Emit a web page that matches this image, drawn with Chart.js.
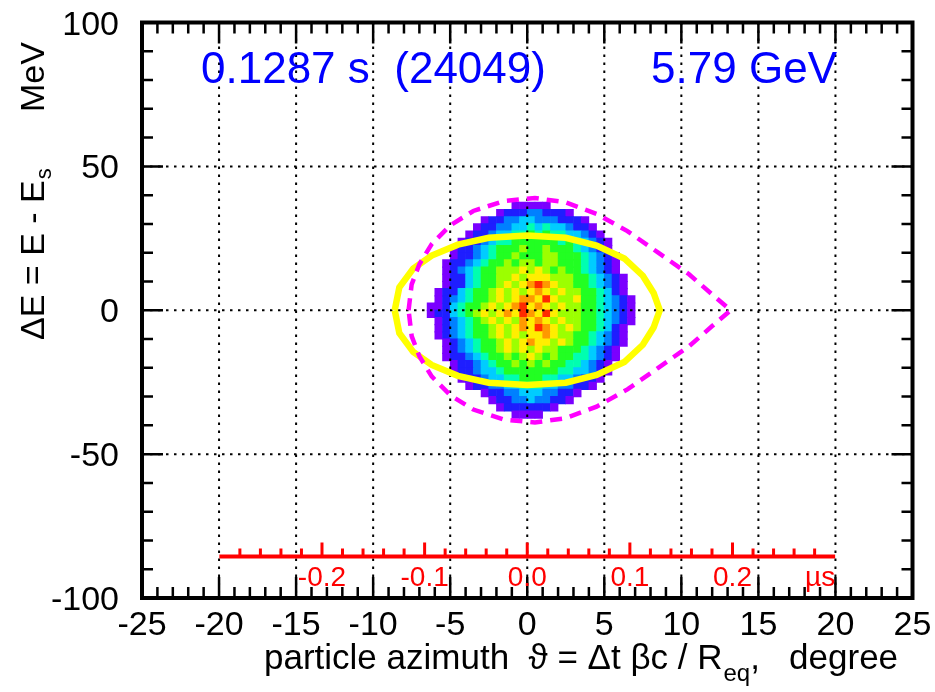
<!DOCTYPE html>
<html><head><meta charset="utf-8">
<script src="https://cdn.jsdelivr.net/npm/chart.js@4.4.1/dist/chart.umd.min.js"></script>
<style>html,body{margin:0;padding:0;background:#fff;overflow:hidden}canvas{display:block}</style>
</head><body>
<canvas id="c" width="935" height="692"></canvas>
<script>
// ---- axis ticks / labels ----
const xTicks = [-25,-20,-15,-10,-5,0,5,10,15,20,25];
const xTickLabels = ['-25','-20','-15','-10','-5','0','5','10','15','20','25'];
const yTicks = [-100,-50,0,50,100];
const yTickLabels = ['-100','-50','0','50','100'];
const xGrid = [-20,-15,-10,-5,0,5,10,15,20];
const yGrid = [-50,0,50];

// ---- 2D histogram (colour level per bin) ----
const heatX0 = -7, heatBinX = 0.5, heatY0 = 37.5, heatBinY = 2.5;
const heatRows = [
"............11111...........",
"..........1222332221........",
"........12233443332221......",
".......1223344545443221.....",
"......122344556565544321....",
".....12234556666665654321...",
"....122345666766766654321...",
"....1223456676667766654321..",
"...12234566767767766654321..",
"...12345667778787676654321..",
"...122456677878887776654321.",
"...122456678789a98776654321.",
"..1224566787878987877665421.",
"..12345667878998a87786654321",
".112456678789a89878776654321",
".122456787898a98a87776654321",
"..12345678787989878776654321",
"..1234566787898a98787665421.",
"..1234566787878898776654321.",
"...123456678789887876654321.",
"...12345667878787766654321..",
"...12234566767876766554321..",
"....122345667676766554321...",
"....122344566666665544321...",
".....1223445566655443221....",
"......12233445554433221.....",
"........1223344433221.......",
".........12233433221........",
"..........12222221..........",
"............1111............"
];
const heatColors = {
  '1':'#7a00ff','2':'#1e1eff','3':'#0080ff','4':'#00ccff','5':'#00ffb0',
  '6':'#22ff22','7':'#9cff00','8':'#ffee00','9':'#ff9900','a':'#ff2a00'
};

// ---- matched ellipse (yellow) ----
const ellipseX = [-8.6,-8.3,-7.4,-6.2,-4.5,-2.5,0,2.5,4.5,6.3,7.5,8.2,8.6,8.2,7.5,6.3,4.5,2.5,0,-2.5,-4.5,-6.2,-7.4,-8.3,-8.6];
const ellipseY = [0,8,14.5,19,22.8,25.2,26,25.2,22.5,18,12,6,0,-6,-12,-18,-22.5,-25.2,-26,-25.2,-22.8,-19,-14.5,-8,0];

// ---- separatrix (magenta dashed) ----
const sepX = [-7.7,-7.5,-7.0,-6.2,-5.0,-3.5,-1.5,0.5,2.5,4.5,6.5,8.5,10.5,12.0,13.2,12.0,10.5,8.5,6.5,4.5,2.5,0.5,-1.5,-3.5,-5.0,-6.2,-7.0,-7.5,-7.7];
const sepY = [0,9,16,23,29.5,34.5,38,39,37.5,33.5,27.5,20,12.5,5.5,0,-5.5,-12.5,-20,-27.5,-33.5,-37.5,-39,-38,-34.5,-29.5,-23,-16,-9,0];

// ---- time axis (red) ----
const timeAxisUs = [-0.3, 0.3];
const timeAxisMeV = -85.6;
const degPerUs = 66.6;
const timeMajorUs = [-0.2,-0.1,0,0.1,0.2];
const timeMinorUs = [-0.28,-0.26,-0.24,-0.22,-0.18,-0.16,-0.14,-0.12,-0.08,-0.06,-0.04,-0.02,0.02,0.04,0.06,0.08,0.12,0.14,0.16,0.18,0.22,0.24,0.26,0.28];
const timeLabels = ['-0.2','-0.1','0.0','0.1','0.2'];
const timeUnit = 'µs';

const infoLeft = '0.1287 s  (24049)';
const infoRight = '5.79 GeV';

// ---- build datasets ----
const heatData = [];
heatRows.forEach((row, r) => {
  for (let i = 0; i < row.length; i++) {
    const c = row[i];
    if (c === '.') continue;
    heatData.push({x: heatX0 + (i + 0.5) * heatBinX, y: heatY0 - (r + 0.5) * heatBinY, v: c});
  }
});
const ellipseData = ellipseX.map((x, i) => ({x, y: ellipseY[i]}));
const sepData = sepX.map((x, i) => ({x, y: sepY[i]}));
const axisData = timeAxisUs.map(u => ({x: u * degPerUs, y: timeAxisMeV}));
const majorLenMeV = 4.9, minorLenMeV = 2.8;
function tickSegs(list, len) {
  const out = [];
  list.forEach(u => {
    out.push({x: u * degPerUs, y: timeAxisMeV});
    out.push({x: u * degPerUs, y: timeAxisMeV + len});
    out.push({x: u * degPerUs, y: null});
  });
  return out;
}

const FONT = '"Liberation Sans", Arial, Helvetica, sans-serif';

const decor = {
  id: 'decor',
  afterDatasetDraw(chart, args) {
    if (args.index !== 0) return;
    const {ctx, chartArea: a, scales: {x, y}} = chart;
    ctx.save();
    ctx.strokeStyle = '#000';
    ctx.lineWidth = 2;
    ctx.setLineDash([2.5, 5.5]);
    xGrid.forEach(v => {
      const px = x.getPixelForValue(v);
      ctx.beginPath(); ctx.moveTo(px, a.top); ctx.lineTo(px, a.bottom); ctx.stroke();
    });
    yGrid.forEach(v => {
      const py = y.getPixelForValue(v);
      ctx.beginPath(); ctx.moveTo(a.left, py); ctx.lineTo(a.right, py); ctx.stroke();
    });
    ctx.restore();
  },
  afterDraw(chart) {
    const {ctx, chartArea: a, scales: {x, y}} = chart;
    ctx.save();
    // ticks
    ctx.strokeStyle = '#000';
    ctx.lineWidth = 2.5;
    ctx.beginPath();
    for (let v = -24; v <= 24; v++) {
      const len = (v % 5 === 0) ? 21 : 11;
      const px = x.getPixelForValue(v);
      ctx.moveTo(px, a.bottom); ctx.lineTo(px, a.bottom - len);
      ctx.moveTo(px, a.top); ctx.lineTo(px, a.top + len);
    }
    for (let v = -90; v <= 90; v += 10) {
      const len = (v % 50 === 0) ? 21 : 11;
      const py = y.getPixelForValue(v);
      ctx.moveTo(a.left, py); ctx.lineTo(a.left + len, py);
      ctx.moveTo(a.right, py); ctx.lineTo(a.right - len, py);
    }
    ctx.stroke();
    // frame
    ctx.lineWidth = 4;
    ctx.strokeRect(a.left, a.top, a.right - a.left, a.bottom - a.top);

    // tick labels
    ctx.fillStyle = '#000';
    ctx.font = '34px ' + FONT;
    ctx.textAlign = 'center';
    ctx.textBaseline = 'alphabetic';
    xTicks.forEach((v, i) => ctx.fillText(xTickLabels[i], x.getPixelForValue(v), a.bottom + 37));
    ctx.textAlign = 'right';
    yTicks.forEach((v, i) => ctx.fillText(yTickLabels[i], 119, y.getPixelForValue(v) + 12));

    // x title
    ctx.textAlign = 'left';
    let tx = 264;
    const tb = 669;
    ctx.font = '35px ' + FONT;
    const p1 = 'particle azimuth  ϑ = Δt βc / R';
    ctx.fillText(p1, tx, tb); tx += ctx.measureText(p1).width + 1;
    ctx.font = '24px ' + FONT;
    ctx.fillText('eq', tx, tb + 12); tx += ctx.measureText('eq').width;
    ctx.font = '35px ' + FONT;
    ctx.fillText(',   degree', tx, tb);

    // y title (rotated)
    ctx.save();
    ctx.translate(44, 340);
    ctx.rotate(-Math.PI / 2);
    ctx.font = '34px ' + FONT;
    const q1 = 'ΔE = E - E';
    ctx.fillText(q1, 0, 0);
    const qw = ctx.measureText(q1).width;
    ctx.font = '22px ' + FONT;
    ctx.fillText('s', qw + 1, 7);
    ctx.font = '34px ' + FONT;
    ctx.fillText('MeV', 228, 0);
    ctx.restore();

    // info texts
    ctx.fillStyle = '#0000ff';
    ctx.font = '44px ' + FONT;
    ctx.textAlign = 'left';
    ctx.fillText(infoLeft, 201, 83);
    ctx.textAlign = 'right';
    ctx.fillText(infoRight, 837, 83);

    // time axis labels
    ctx.fillStyle = '#ff0000';
    ctx.font = '28px ' + FONT;
    ctx.textAlign = 'center';
    const ly = y.getPixelForValue(timeAxisMeV) + 29;
    timeMajorUs.forEach((u, i) => ctx.fillText(timeLabels[i], x.getPixelForValue(u * degPerUs), ly));
    ctx.textAlign = 'right';
    ctx.fillText(timeUnit, x.getPixelForValue(timeAxisUs[1] * degPerUs), ly);
    ctx.restore();
  }
};

new Chart(document.getElementById('c'), {
  type: 'scatter',
  data: {
    datasets: [
      {
        data: heatData, order: 10, showLine: false, pointStyle: 'rect',
        pointBorderWidth: 0,
        backgroundColor: ctx => heatColors[ctx.raw && ctx.raw.v] || 'rgba(0,0,0,0)',
        pointBackgroundColor: ctx => heatColors[ctx.raw && ctx.raw.v] || 'rgba(0,0,0,0)',
        pointRadius: ctx => {
          const c = ctx.chart, sx = c.scales.x, sy = c.scales.y;
          const w = Math.abs(sx.getPixelForValue(heatBinX) - sx.getPixelForValue(0));
          const h = Math.abs(sy.getPixelForValue(0) - sy.getPixelForValue(heatBinY));
          return (Math.max(w, h) + 0.6) / Math.SQRT2;
        }
      },
      { data: ellipseData, order: 3, showLine: true, pointRadius: 0, borderColor: '#ffff00', borderWidth: 6.5, fill: false, tension: 0 },
      { data: sepData, order: 2, showLine: true, pointRadius: 0, borderColor: '#ff00ff', borderWidth: 4.5, borderDash: [12, 8], fill: false, tension: 0 },
      { data: axisData, order: 1, showLine: true, pointRadius: 0, borderColor: '#ff0000', borderWidth: 4, fill: false },
      { data: tickSegs(timeMajorUs, majorLenMeV), order: 0, showLine: true, spanGaps: false, pointRadius: 0, borderColor: '#ff0000', borderWidth: 3, fill: false },
      { data: tickSegs(timeMinorUs, minorLenMeV), order: 0, showLine: true, spanGaps: false, pointRadius: 0, borderColor: '#ff0000', borderWidth: 3, fill: false }
    ]
  },
  options: {
    responsive: false, animation: false, devicePixelRatio: 1, events: [],
    layout: {padding: {left: 142, right: 22.5, top: 22.5, bottom: 94}},
    plugins: {legend: {display: false}, tooltip: {enabled: false}},
    scales: {
      x: {type: 'linear', min: -25, max: 25, display: false},
      y: {type: 'linear', min: -100, max: 100, display: false}
    }
  },
  plugins: [decor]
});
</script>
</body></html>
